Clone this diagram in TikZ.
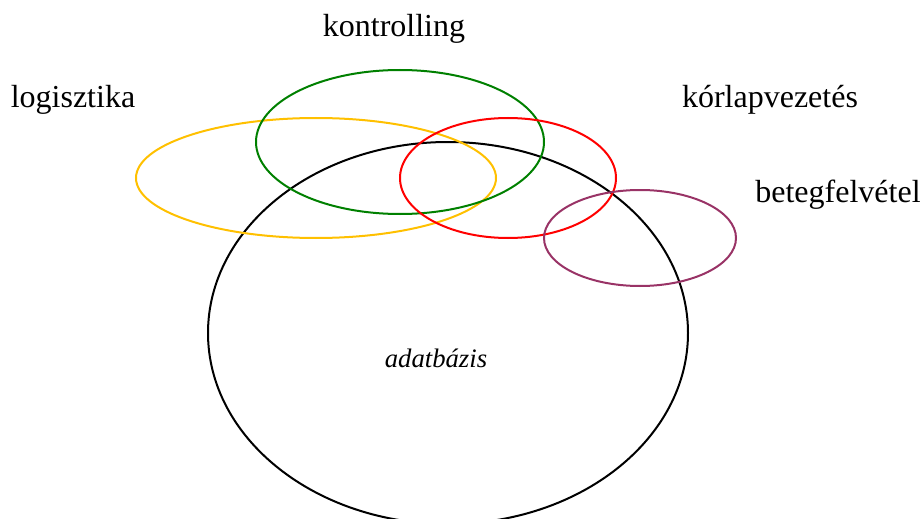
\documentclass[tikz,border=0pt]{standalone}
\usepackage{fontspec}
\setmainfont{Liberation Serif}
\definecolor{setyellow}{HTML}{FFC000}
\definecolor{setgreen}{HTML}{008000}
\definecolor{setred}{HTML}{FF0000}
\definecolor{setpurple}{HTML}{993366}
\begin{document}
\begin{tikzpicture}[x=1pt,y=-1pt,
  setline/.style={line width=2pt},
  setlabel/.style={anchor=base,inner sep=0pt,font=\fontsize{32}{36}\selectfont},
  corelabel/.style={anchor=base,inner sep=0pt,font=\fontsize{26.7}{30}\selectfont\itshape}]
\useasboundingbox (0,0) rectangle (922,519);
% overlapping areas
\draw[setline,black] (448,333) ellipse [x radius=240, y radius=191];
\draw[setline,setyellow] (316,178) ellipse [x radius=180, y radius=60];
\draw[setline,setgreen] (400,142) ellipse [x radius=144, y radius=72];
\draw[setline,setred] (508,178) ellipse [x radius=108, y radius=60];
\draw[setline,setpurple] (640,238) ellipse [x radius=96, y radius=48];
% labels
\node[setlabel] (kontr) at (394,37) {kontrolling};
\node[setlabel] (logis) at (73,108) {logisztika};
\node[setlabel] (korlap) at (770,108) {kórlapvezetés};
\node[setlabel] (beteg) at (838,202) {betegfelvétel};
\node[corelabel] (adatb) at (436,367) {adatbázis};
\end{tikzpicture}
\end{document}
